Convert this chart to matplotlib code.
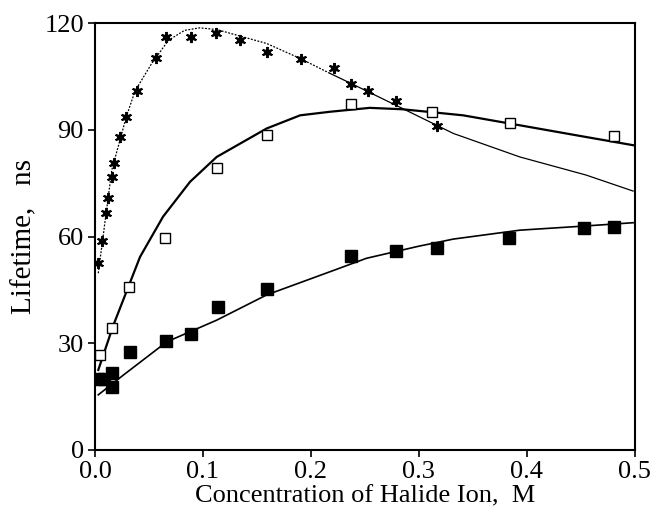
import matplotlib
matplotlib.use("Agg")
import matplotlib.pyplot as plt

# --- data ---
star_x = [0.0025, 0.006, 0.010, 0.012, 0.0155, 0.018, 0.023, 0.029, 0.0386, 0.0565,
          0.0657, 0.089, 0.112, 0.134, 0.159, 0.191, 0.221, 0.237, 0.2525, 0.2787, 0.317]
star_y = [52.6, 58.7, 66.7, 70.8, 76.8, 80.7, 88.1, 93.7, 100.9, 110.1,
          116.2, 116.2, 117.3, 115.4, 111.9, 109.9, 107.3, 103.0, 101.0, 98.1, 91.1]

open_x = [0.005, 0.0155, 0.031, 0.065, 0.1127, 0.159, 0.237, 0.3124, 0.384, 0.481]
open_y = [26.6, 34.2, 45.9, 59.5, 79.2, 88.5, 97.2, 94.9, 92.0, 88.2]

fill_x = [0.003, 0.008, 0.016, 0.016, 0.0324, 0.0654, 0.089, 0.1136, 0.159,
          0.237, 0.2787, 0.317, 0.3836, 0.453, 0.481]
fill_y = [19.9, 19.9, 21.7, 17.6, 27.6, 30.6, 32.5, 40.3, 45.2,
          54.6, 55.9, 56.9, 59.7, 62.5, 62.8]

# fitted curves
star_fit_x = [0.003, 0.0155, 0.029, 0.037, 0.0525, 0.068, 0.083, 0.097, 0.113, 0.159,
              0.19, 0.2176, 0.239, 0.285, 0.332, 0.3935, 0.455, 0.4985]
star_fit_y = [49.7, 78.7, 93.7, 100.9, 108.7, 115.2, 118.0, 118.7, 118.2, 114.3,
              110.1, 105.9, 102.8, 96.0, 89.0, 82.4, 77.3, 72.8]

open_fit_x = [0.003, 0.017, 0.0417, 0.063, 0.088, 0.1127, 0.159, 0.19, 0.2176,
              0.2546, 0.285, 0.341, 0.3935, 0.455, 0.4985]
open_fit_y = [22.5, 35.1, 54.3, 65.6, 75.4, 82.4, 90.4, 94.1, 95.1,
              96.2, 95.8, 94.1, 91.3, 88.0, 85.7]

fill_fit_x = [0.003, 0.026, 0.0664, 0.1127, 0.159, 0.222, 0.2515, 0.30, 0.332, 0.3935, 0.455, 0.4985]
fill_fit_y = [15.5, 21.0, 30.4, 36.5, 43.6, 50.6, 53.9, 57.3, 59.3, 61.8, 63.0, 63.9]

x_ticks = [0.0, 0.1, 0.2, 0.3, 0.4, 0.5]
x_ticklabels = ["0.0", "0.1", "0.2", "0.3", "0.4", "0.5"]
y_ticks = [0, 30, 60, 90, 120]
y_ticklabels = ["0", "30", "60", "90", "120"]

plt.rcParams['font.family'] = ['Liberation Serif', 'DejaVu Serif']

fig = plt.figure(figsize=(6.51, 5.16), dpi=100)
ax = fig.add_axes([0.146, 0.128, 0.829, 0.827])

split = 12  # dotted rendering for the rising part, thin solid afterwards
ax.plot(star_fit_x[:split], star_fit_y[:split], color='black', lw=0.9, ls=(0, (1.5, 1.2)))
ax.plot(star_fit_x[split - 1:], star_fit_y[split - 1:], color='black', lw=0.9)
ax.plot(open_fit_x, open_fit_y, color='black', lw=1.6)
ax.plot(fill_fit_x, fill_fit_y, color='black', lw=1.2)

ax.plot(star_x, star_y, ls='none', marker=(6, 2, 0), ms=8, mew=1.4, color='black')
ax.plot(star_x, star_y, ls='none', marker='o', ms=4, color='black')
ax.plot(open_x, open_y, ls='none', marker='s', ms=7.5, mfc='white', mec='black', mew=1.0)
ax.plot(fill_x, fill_y, ls='none', marker='s', ms=9, color='black')

ax.set_xlim(0, 0.5)
ax.set_ylim(0, 120)
ax.set_xticks(x_ticks)
ax.set_xticklabels(x_ticklabels)
ax.set_yticks(y_ticks)
ax.set_yticklabels(y_ticklabels)
ax.tick_params(direction='out', length=5, width=1.2, labelsize=19, pad=3)
for s in ax.spines.values():
    s.set_linewidth(1.5)

ax.set_xlabel("Concentration of Halide Ion,  M", fontsize=19, labelpad=2)
ax.set_ylabel("Lifetime,   ns", fontsize=21, labelpad=5)

fig.savefig("out.png", dpi=100)
